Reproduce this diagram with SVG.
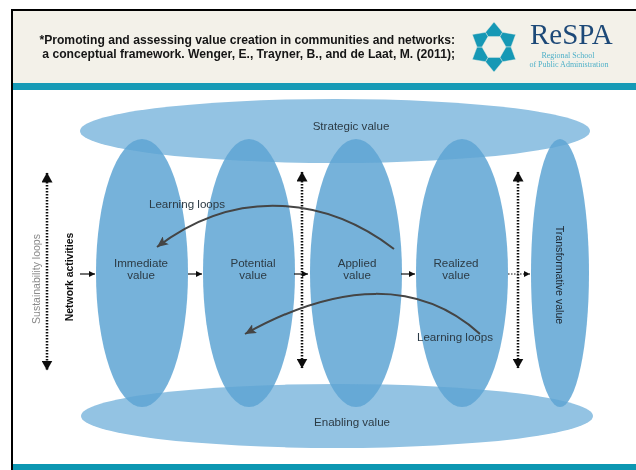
<svg xmlns="http://www.w3.org/2000/svg" width="636" height="470" viewBox="0 0 636 470">
<style>
.v{fill:#5ea5d4;fill-opacity:.85}
.h{fill:#93c3e3}
.t{font-family:"Liberation Sans",Arial,sans-serif;font-size:11.6px;fill:#2c3a44;text-anchor:middle}
.hd{font-family:"Liberation Sans",Arial,sans-serif;font-size:12.15px;font-weight:bold;fill:#161616;text-anchor:end}
.flow{stroke:#111;stroke-width:1.2;fill:none;marker-end:url(#sm)}
.dot{stroke:#111;stroke-width:2.5;stroke-dasharray:1.6 1.4;fill:none;marker-start:url(#big);marker-end:url(#big)}
.loop{stroke:#444;stroke-width:2;fill:none;marker-end:url(#lp)}
.arm{fill:#1598b5;stroke:#f3f1e9;stroke-width:.4}
</style>
<defs>
<filter id="soft" x="0" y="0" width="100%" height="100%"><feGaussianBlur stdDeviation="0.4"/></filter>
<marker id="sm" markerUnits="userSpaceOnUse" markerWidth="7" markerHeight="6" refX="6" refY="3" orient="auto"><path d="M0 0L6 3L0 6Z" fill="#111"/></marker>
<marker id="big" markerUnits="userSpaceOnUse" markerWidth="11" markerHeight="11" refX="9.5" refY="5.5" orient="auto-start-reverse"><path d="M0 0L10 5.5L0 11Z" fill="#111"/></marker>
<marker id="lp" markerUnits="userSpaceOnUse" markerWidth="13" markerHeight="10" refX="11" refY="5" orient="auto"><path d="M0 0L11 5L0 10L2.5 5Z" fill="#444"/></marker>
</defs>
<rect width="636" height="470" fill="#fff"/>
<g filter="url(#soft)">
<rect x="11" y="10" width="625" height="73" fill="#f3f1e9"/>
<rect x="11" y="83" width="625" height="7" fill="#169ab6"/>
<rect x="11" y="464" width="625" height="6" fill="#0e97b2"/>
<path d="M11.5 470V9.5H636" fill="none" stroke="#000" stroke-width="3"/>
<g id="header"><text class="hd" x="455" y="44">*Promoting and assessing value creation in communities and networks:</text>
<text class="hd" x="455" y="58">a conceptual framework. Wenger, E., Trayner, B., and de Laat, M. (2011);</text></g>
<g id="logo">
<path id="a" class="arm" d="M494 22L502.5 32.3L500 36.6H488L485.5 32.3Z"/>
<use href="#a" transform="rotate(60 494 47)"/><use href="#a" transform="rotate(120 494 47)"/><use href="#a" transform="rotate(180 494 47)"/><use href="#a" transform="rotate(240 494 47)"/><use href="#a" transform="rotate(300 494 47)"/>
<text x="530" y="44" font-family="'Liberation Serif',serif" font-size="29" fill="#1f4a78">ReSPA</text>
<text x="568" y="58" font-family="'Liberation Serif',serif" font-size="8" fill="#4fb0c8" text-anchor="middle">Regional School</text>
<text x="569" y="67" font-family="'Liberation Serif',serif" font-size="8" fill="#4fb0c8" text-anchor="middle">of Public Administration</text>
</g>
<g id="strategic"><ellipse class="h" cx="335" cy="131" rx="255" ry="32"/><text class="t" x="351" y="130">Strategic value</text></g>
<g id="enabling"><ellipse class="h" cx="337" cy="416" rx="256" ry="32"/><text class="t" x="352" y="426">Enabling value</text></g>
<g id="immediate"><ellipse class="v" cx="142" cy="273" rx="46" ry="134"/><text class="t" x="141" y="267">Immediate</text><text class="t" x="141" y="279">value</text></g>
<g id="potential"><ellipse class="v" cx="249" cy="273" rx="46" ry="134"/><text class="t" x="253" y="267">Potential</text><text class="t" x="253" y="279">value</text></g>
<g id="applied"><ellipse class="v" cx="356" cy="273" rx="46" ry="134"/><text class="t" x="357" y="267">Applied</text><text class="t" x="357" y="279">value</text></g>
<g id="realized"><ellipse class="v" cx="462" cy="273" rx="46" ry="134"/><text class="t" x="456" y="267">Realized</text><text class="t" x="456" y="279">value</text></g>
<g id="transformative"><ellipse class="v" cx="560" cy="273" rx="29" ry="134"/><text class="t" transform="translate(556 275) rotate(90)" style="font-size:10.6px;fill:#1c2730">Transformative value</text></g>
<g id="connectors">
<path class="flow" d="M80 274H95"/><path class="flow" d="M188 274H202"/><path class="flow" d="M294 274H308"/><path class="flow" d="M401 274H415"/>
<path class="flow" d="M508 274H530" stroke-dasharray="1.5 1.5"/>
<path class="dot" d="M47 173V370"/><path class="dot" d="M302 172V368"/><path class="dot" d="M518 172V368"/>
<path class="loop" d="M394 249C330 200 240 184 157 247"/>
<path class="loop" d="M480 334C420 280 340 281 245 334"/>
</g>
<g id="labels">
<text class="t" x="187" y="208">Learning loops</text>
<text class="t" x="455" y="341">Learning loops</text>
<text class="t" transform="translate(40 279) rotate(-90)" style="font-size:10.5px;fill:#8a8a8a">Sustainability loops</text>
<text class="t" transform="translate(73 277) rotate(-90)" style="font-size:10.4px;font-weight:bold;fill:#111">Network activities</text>
</g>
</g>
</svg>
